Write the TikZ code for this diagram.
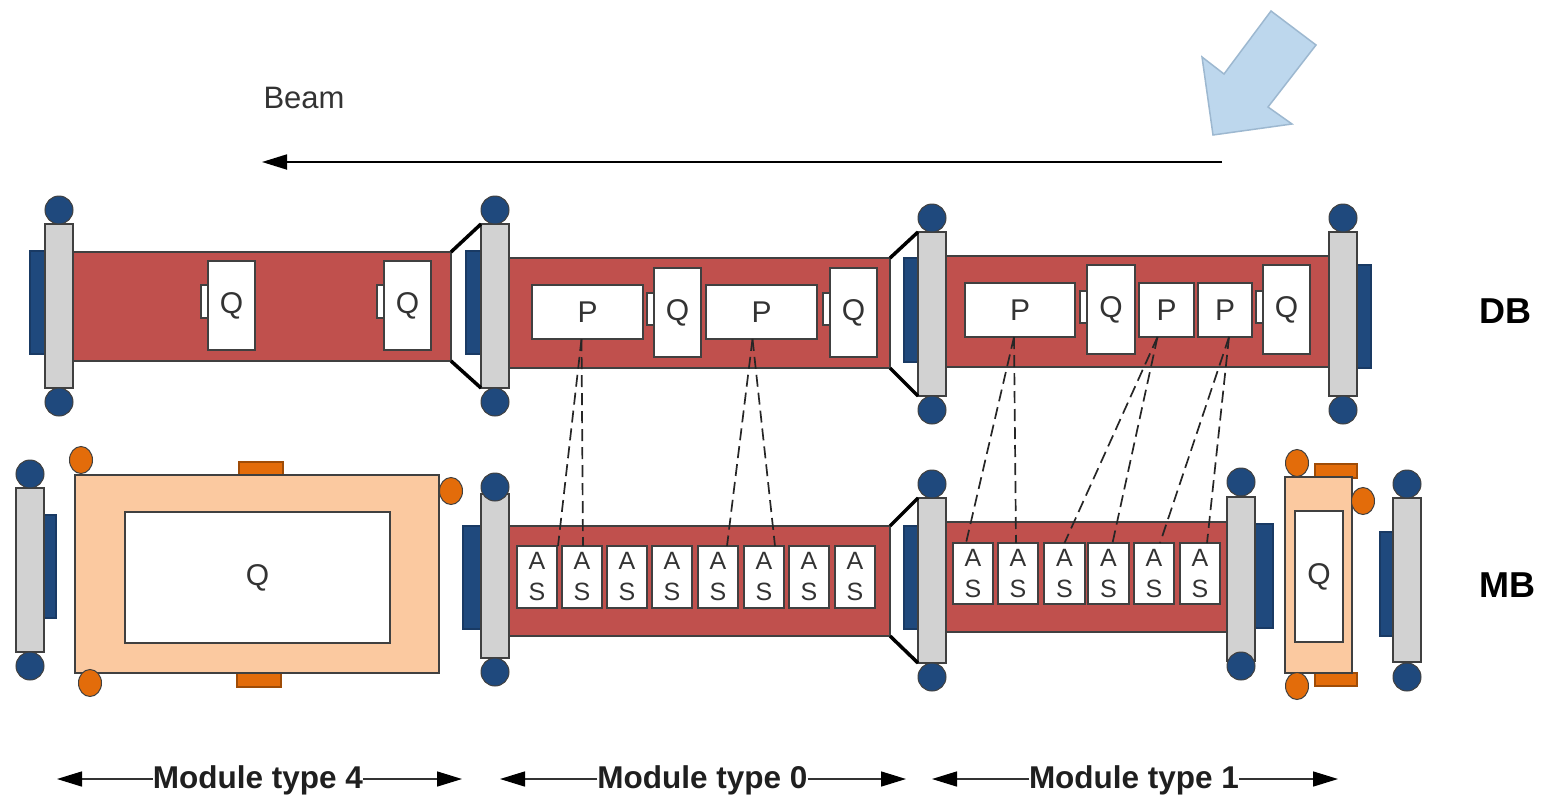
\documentclass[tikz,border=0pt]{standalone}
\usepackage{fontspec}
\setmainfont{Liberation Sans}
\usetikzlibrary{arrows.meta,calc,shapes.geometric}
\definecolor{cavred}{HTML}{C0504D}
\definecolor{navy}{HTML}{1F497D}
\definecolor{flgray}{HTML}{D2D2D2}
\definecolor{peach}{HTML}{FBC9A0}
\definecolor{orng}{HTML}{E36C0A}
\definecolor{edgec}{HTML}{404040}
\definecolor{ink}{HTML}{333333}
\definecolor{arrowline}{HTML}{9DB8D0}
\definecolor{arrowfill}{HTML}{BDD7ED}
\tikzset{
 bx/.style={draw=edgec,line width=1.6pt,inner sep=0pt,outer sep=0pt,rectangle},
 cavity/.style={bx,fill=cavred},
 port/.style={bx,fill=navy,draw=navy!80!black},
 flangebar/.style={bx,fill=flgray},
 magnet/.style={bx,fill=peach},
 pad/.style={bx,fill=orng,draw=orng!70!black},
 comp/.style={bx,fill=white,text=ink,font=\fontsize{30}{30}\selectfont},
 ascomp/.style={bx,fill=white,text=ink,align=center,font=\fontsize{25}{31}\selectfont},
 tabbox/.style={bx,fill=white},
 ball/.style={circle,draw=edgec,line width=1pt,fill=navy,inner sep=0pt,outer sep=0pt,minimum size=28pt},
 lug/.style={ellipse,draw=edgec,line width=1pt,fill=orng,inner sep=0pt,outer sep=0pt,minimum width=23pt,minimum height=27pt},
 taper/.style={line width=3.5pt,black},
 linkline/.style={line width=1.7pt,black!85,dash pattern=on 12pt off 6pt},
 dimline/.style={line width=1.5pt,black!80,-{Triangle[length=25pt,width=15pt,color=black]}},
 lab/.style={inner sep=0pt,outer sep=0pt,font=\bfseries\fontsize{31.5}{32}\selectfont,text=ink!60!black},
 rowlab/.style={inner sep=0pt,font=\bfseries\fontsize{36}{36}\selectfont,text=black}
}
% name, x1, y1, x2, y2, style, text
\newcommand\bx[7]{\node[#6,minimum width={((#4)-(#2))*1pt},minimum height={((#5)-(#3))*1pt}] (#1) at ({((#2)+(#4))/2},{((#3)+(#5))/2}) {#7};}
% name, xc, ytop, ybot, ycircle top, ycircle bottom
\newcommand\flange[6]{%
 \bx{#1}{#2-14}{#3}{#2+14}{#4}{flangebar}{}
 \node[ball] (#1t) at (#2,#5) {};
 \node[ball] (#1b) at (#2,#6) {};}
\begin{document}
\begin{tikzpicture}[x=1pt,y=-1pt]
\useasboundingbox (0,0) rectangle (1547,801);
% block arrow
\node[inner sep=0pt,text=ink,font=\fontsize{31}{31}\selectfont] (beamlabel) at (304,98) {Beam};
\draw[draw=arrowline,fill=arrowfill,line width=1.5pt,line join=miter]
 (1271,11) -- (1316,45) -- (1268,107) -- (1292,124) -- (1213,135) -- (1202,57) -- (1224,74) -- cycle;
\coordinate (beamstart) at (1222,162);
\coordinate (beamend) at (262,162);
\draw[line width=1.8pt,black,-{Triangle[length=25pt,width=15pt]}] (beamstart) -- (beamend);

% ---- DB row
\bx{pa}{30}{251}{45}{354}{port}{}
\bx{pb}{466}{251}{481}{354}{port}{}
\bx{pc}{904}{258}{918}{362}{port}{}
\bx{pd}{1357}{265}{1371}{368}{port}{}
\bx{ra}{73}{252}{451}{361}{cavity}{}
\bx{rb}{509}{258}{890}{368}{cavity}{}
\bx{rc}{946}{256}{1329}{367}{cavity}{}
\flange{fa}{59}{224}{388}{210}{402}
\flange{fb}{495}{224}{388}{210}{402}
\flange{fc}{932}{232}{396}{218}{410}
\flange{fd}{1343}{232}{396}{218}{410}
\draw[taper] (ra.north east) -- (fb.north west);
\draw[taper] (ra.south east) -- (fb.south west);
\draw[taper] (rb.north east) -- (fc.north west);
\draw[taper] (rb.south east) -- (fc.south west);
% Q and tabs
\bx{ta}{201}{285}{208}{318}{tabbox}{}
\bx{qa}{208}{261}{255}{350}{comp}{Q}
\bx{tb}{377}{285}{384}{318}{tabbox}{}
\bx{qb}{384}{261}{431}{350}{comp}{Q}
\bx{p1}{532}{285}{643}{339}{comp}{P}
\bx{tc}{647}{293}{654}{325}{tabbox}{}
\bx{qc}{654}{268}{701}{357}{comp}{Q}
\bx{p2}{706}{285}{817}{339}{comp}{P}
\bx{td}{823}{293}{830}{325}{tabbox}{}
\bx{qd}{830}{268}{877}{357}{comp}{Q}
\bx{p3}{965}{283}{1075}{337}{comp}{P}
\bx{te}{1080}{291}{1087}{323}{tabbox}{}
\bx{qe}{1087}{265}{1135}{354}{comp}{Q}
\bx{p4}{1139}{283}{1194}{337}{comp}{P}
\bx{p5}{1198}{283}{1252}{337}{comp}{P}
\bx{tf}{1256}{291}{1263}{323}{tabbox}{}
\bx{qf}{1263}{265}{1310}{354}{comp}{Q}

% ---- MB row
\bx{pe}{44}{515}{56}{618}{port}{}
\bx{pf}{463}{526}{481}{629}{port}{}
\bx{pg}{904}{526}{918}{629}{port}{}
\bx{ph}{1255}{524}{1273}{628}{port}{}
\bx{pi}{1380}{532}{1393}{636}{port}{}
\flange{fe}{30}{488}{652}{474}{666}
% big quadrupole
\bx{oa}{239}{462}{283}{476}{pad}{}
\bx{ob}{237}{673}{281}{687}{pad}{}
\bx{mq}{75}{475}{439}{673}{magnet}{}
\bx{qg}{125}{512}{390}{643}{comp}{Q}
\node[lug] (la) at (81,460) {};
\node[lug] (lb) at (451,491) {};
\node[lug] (lc) at (90,683) {};
\bx{rd}{509}{526}{890}{636}{cavity}{}
\bx{re}{943}{522}{1227}{632}{cavity}{}
\flange{ff}{495}{494}{658}{487}{672}
\flange{fg}{932}{498}{663}{484}{677}
\flange{fh}{1241}{497}{661}{482}{666}
\flange{fi}{1407}{498}{662}{484}{677}
\draw[taper] (rd.north east) -- (fg.north west);
\draw[taper] (rd.south east) -- (fg.south west);
% AS
\bx{a1}{517}{546}{557}{608}{ascomp}{A\\S}
\bx{a2}{562}{546}{602}{608}{ascomp}{A\\S}
\bx{a3}{607}{546}{647}{608}{ascomp}{A\\S}
\bx{a4}{652}{546}{692}{608}{ascomp}{A\\S}
\bx{a5}{698}{546}{738}{608}{ascomp}{A\\S}
\bx{a6}{744}{546}{784}{608}{ascomp}{A\\S}
\bx{a7}{789}{546}{829}{608}{ascomp}{A\\S}
\bx{a8}{835}{546}{875}{608}{ascomp}{A\\S}
\bx{a9}{953}{543}{993}{604}{ascomp}{A\\S}
\bx{a10}{998}{543}{1038}{604}{ascomp}{A\\S}
\bx{a11}{1044}{543}{1085}{604}{ascomp}{A\\S}
\bx{a12}{1088}{543}{1129}{604}{ascomp}{A\\S}
\bx{a13}{1134}{543}{1174}{604}{ascomp}{A\\S}
\bx{a14}{1180}{543}{1220}{604}{ascomp}{A\\S}
% small quadrupole
\bx{oc}{1315}{464}{1357}{478}{pad}{}
\bx{od}{1315}{673}{1357}{686}{pad}{}
\bx{mr}{1285}{477}{1352}{673}{magnet}{}
\bx{qh}{1295}{511}{1343}{642}{comp}{Q}
\node[lug] (ld) at (1297,463) {};
\node[lug] (le) at (1363,501) {};
\node[lug] (lf) at (1297,686) {};

% dashed links
\draw[linkline] ($(p1.south)+(-6,0)$) -- ($(a1.north)+(21,0)$);
\draw[linkline] ($(p1.south)+(-6,0)$) -- ($(a2.north)+(1,0)$);
\draw[linkline] ($(p2.south)+(-9,0)$) -- ($(a5.north)+(9,0)$);
\draw[linkline] ($(p2.south)+(-9,0)$) -- ($(a6.north)+(11,0)$);
\draw[linkline] ($(p3.south)+(-6,0)$) -- ($(a9.north)+(-7,0)$);
\draw[linkline] ($(p3.south)+(-6,0)$) -- ($(a10.north)+(-2,0)$);
\draw[linkline] ($(p4.south)+(-9,0)$) -- ($(a11.north)+(0,0)$);
\draw[linkline] ($(p4.south)+(-9,0)$) -- ($(a12.north)+(4,0)$);
\draw[linkline] ($(p5.south)+(4,0)$) -- ($(a13.north)+(6,0)$);
\draw[linkline] ($(p5.south)+(4,0)$) -- ($(a14.north)+(7,0)$);

% row labels
\node[rowlab] (db) at (1505,311) {DB};
\node[rowlab] (mb) at (1507,585) {MB};

% module dimensions
\node[lab] (m4) at (258,780) {Module type 4};
\coordinate (m4l) at (57,779); \coordinate (m4r) at (462,779);
\draw[dimline] (m4.west |- m4l) -- (m4l);
\draw[dimline] (m4.east |- m4r) -- (m4r);
\node[lab] (m0) at (702.5,780) {Module type 0};
\coordinate (m0l) at (500,779); \coordinate (m0r) at (906,779);
\draw[dimline] (m0.west |- m0l) -- (m0l);
\draw[dimline] (m0.east |- m0r) -- (m0r);
\node[lab] (m1) at (1134,780) {Module type 1};
\coordinate (m1l) at (932,779); \coordinate (m1r) at (1338,779);
\draw[dimline] (m1.west |- m1l) -- (m1l);
\draw[dimline] (m1.east |- m1r) -- (m1r);
\end{tikzpicture}
\end{document}
